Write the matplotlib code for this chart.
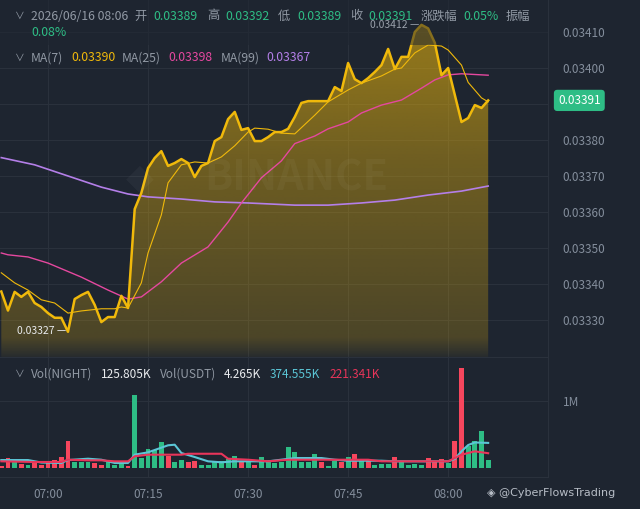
import matplotlib.pyplot as plt
import numpy as np
from matplotlib.patches import Rectangle

plt.rcParams['font.family'] = ['Noto Sans CJK SC', 'DejaVu Sans']

# 1-minute candles, 06:53 .. 08:06 (index 0 .. 73)
close = [0.033379, 0.033326, 0.033378, 0.033364, 0.033378, 0.033347, 0.033336, 0.033319,
         0.033306, 0.033306, 0.033267, 0.033358, 0.033369, 0.033378, 0.033342, 0.033294,
         0.033308, 0.033308, 0.033367, 0.033333, 0.033608, 0.033653, 0.033722, 0.033750,
         0.033769, 0.033728, 0.033736, 0.033747, 0.033736, 0.033697, 0.033728, 0.033736,
         0.033797, 0.033808, 0.033858, 0.033878, 0.033828, 0.033833, 0.033797, 0.033797,
         0.033808, 0.033822, 0.033822, 0.033831, 0.033864, 0.033903, 0.033908, 0.033908,
         0.033908, 0.033908, 0.033947, 0.033936, 0.034014, 0.033969, 0.033958, 0.033972,
         0.033989, 0.034008, 0.034053, 0.033997, 0.034031, 0.034031, 0.034100, 0.034120,
         0.034110, 0.034070, 0.033980, 0.034000, 0.033925, 0.033850, 0.033861, 0.033897,
         0.033889, 0.033910]

# volume in millions NIGHT
volume = [0.034, 0.149, 0.085, 0.064, 0.049, 0.075, 0.040, 0.075, 0.124, 0.164,
          0.407, 0.085, 0.085, 0.085, 0.075, 0.049, 0.085, 0.049, 0.064, 0.034,
          1.094, 0.149, 0.288, 0.273, 0.384, 0.175, 0.085, 0.115, 0.090, 0.104,
          0.040, 0.049, 0.085, 0.109, 0.134, 0.184, 0.085, 0.100, 0.049, 0.164,
          0.085, 0.075, 0.085, 0.313, 0.234, 0.085, 0.085, 0.209, 0.085, 0.034,
          0.109, 0.085, 0.164, 0.213, 0.124, 0.124, 0.049, 0.064, 0.064, 0.164,
          0.085, 0.049, 0.064, 0.049, 0.149, 0.085, 0.134, 0.075, 0.398, 1.490,
          0.324, 0.398, 0.557, 0.126]
up = [0, 0, 1, 0, 1, 0, 0, 0, 0, 0, 0, 1, 1, 1, 0, 0, 1, 1, 1, 0,
      1, 1, 1, 1, 1, 0, 1, 1, 0, 0, 1, 1, 1, 1, 1, 1, 0, 1, 0, 1,
      1, 1, 1, 1, 1, 1, 1, 1, 0, 1, 1, 0, 1, 0, 1, 0, 1, 1, 1, 0,
      1, 1, 1, 1, 0, 0, 0, 1, 0, 0, 1, 1, 1, 1]

ma7_at = [0, 2, 4, 6, 8, 10, 12, 15, 17, 18, 19, 21, 22, 24, 25, 27, 29, 31, 33, 35,
          37, 38, 40, 42, 44, 47, 49, 52, 54, 57, 59, 60, 62, 64, 66, 67, 69, 70, 72, 73]
ma7 = [0.033431, 0.033403, 0.033383, 0.033356, 0.033347, 0.033319, 0.033325, 0.033331,
       0.033331, 0.033336, 0.033333, 0.033403, 0.033486, 0.033592, 0.033681, 0.033731,
       0.033739, 0.033736, 0.033753, 0.033784, 0.033822, 0.033833, 0.033830, 0.033819,
       0.033817, 0.033869, 0.033906, 0.033939, 0.033958, 0.033978, 0.033997, 0.034000,
       0.034042, 0.034064, 0.034061, 0.034050, 0.034008, 0.033960, 0.033917, 0.033906]

ma25_at = [0, 1, 4, 7, 12, 16, 19, 21, 24, 27, 31, 34, 36, 39, 42, 44, 47, 49, 52, 54,
           57, 60, 63, 65, 67, 69, 73]
ma25 = [0.033486, 0.033481, 0.033475, 0.033458, 0.033419, 0.033383, 0.033358, 0.033364,
        0.033406, 0.033458, 0.033503, 0.033572, 0.033625, 0.033695, 0.033742, 0.033790,
        0.033811, 0.033831, 0.033850, 0.033875, 0.033897, 0.033911, 0.033944, 0.033967,
        0.033981, 0.033984, 0.033980]

ma99_at = [0, 5, 10, 15, 19, 22, 27, 32, 37, 44, 49, 54, 59, 64, 69, 73]
ma99 = [0.033751, 0.033731, 0.033700, 0.033669, 0.033650, 0.033642, 0.033636, 0.033628,
        0.033625, 0.033619, 0.033619, 0.033625, 0.033633, 0.033647, 0.033658, 0.033672]

vma5_at = [0, 4, 6, 9, 10, 13, 15, 16, 17, 19, 20, 22, 23, 25, 26, 27, 29, 31, 33, 35,
           37, 40, 44, 48, 50, 52, 57, 59, 67, 68, 69, 70, 71, 73]
vma5 = [0.119, 0.119, 0.082, 0.075, 0.119, 0.139, 0.124, 0.100, 0.075, 0.075,
        0.199, 0.234, 0.269, 0.339, 0.348, 0.224, 0.164, 0.100, 0.085, 0.100,
        0.100, 0.100, 0.149, 0.149, 0.124, 0.109, 0.109, 0.100, 0.100, 0.134,
        0.249, 0.343, 0.381, 0.375]

vma10_at = [0, 5, 9, 10, 13, 15, 17, 19, 20, 22, 27, 28, 33, 34, 37, 40, 43, 52, 55, 57,
            67, 69, 71, 73]
vma10 = [0.100, 0.090, 0.090, 0.124, 0.115, 0.115, 0.100, 0.100, 0.175, 0.199,
         0.199, 0.213, 0.213, 0.139, 0.124, 0.100, 0.124, 0.124, 0.124, 0.100,
         0.100, 0.199, 0.249, 0.221]

time_pos = [7, 22, 37, 52, 67]
time_labels = ['07:00', '07:15', '07:30', '07:45', '08:00']
price_ticks = [0.03330, 0.03340, 0.03350, 0.03360, 0.03370, 0.03380, 0.03390, 0.03400, 0.03410]
low_idx, low_val = 10, 0.03327
high_idx, high_val = 63, 0.03412

BG = '#1e2530'
GRID = '#2a313c'
GREY = '#848e9c'
GREEN = '#2ebd85'
RED = '#f6465d'
YELLOW = '#f0b90b'
PINK = '#e5489f'
PURPLE = '#b47fe8'
CYAN = '#5bc6d6'
VRED = '#e8355a'

W, H = 640, 509
fig = plt.figure(figsize=(6.4, 5.09), dpi=100, facecolor=BG)


def fx(x):
    return x / W


def fy(y):
    return 1 - y / H


ax = fig.add_axes([0, fy(357), fx(548), 357 / H], facecolor=BG)
axv = fig.add_axes([0, fy(477), fx(548), 120 / H], facecolor=BG)

x = np.arange(len(close))
xmin, xmax = -0.195, 81.97
for a in (ax, axv):
    a.set_xlim(xmin, xmax)
    for s in a.spines.values():
        s.set_color(GRID)
    a.spines['left'].set_visible(False)
    a.set_xticks(time_pos)
    a.grid(True, color=GRID, linewidth=0.8)
    a.set_axisbelow(True)
    a.yaxis.tick_right()
    a.tick_params(length=0, colors=GREY, labelsize=8.5, pad=10.5)

ylo, yhi = 0.033197, 0.034189
ax.set_ylim(ylo, yhi)
ax.set_yticks(price_ticks)
# the 0.03390 label sits under the last-price tag
ax.set_yticklabels(['' if abs(p - 0.03390) < 1e-9 else f'{p:.5f}' for p in price_ticks])
ax.set_xticklabels([])
ax.spines['top'].set_visible(False)

# gradient area under close
poly = ax.fill_between(x, close, ylo, facecolor='none', edgecolor='none')
yy = np.linspace(yhi, ylo, 300)
alpha = np.interp(yy, [ylo, 0.03325, 0.03375, 0.03400, yhi], [0.05, 0.22, 0.39, 0.52, 0.58])
img = np.zeros((300, 1, 4))
img[:, 0, :3] = [240 / 255, 185 / 255, 11 / 255]
img[:, 0, 3] = alpha
im = ax.imshow(img, extent=[xmin, xmax, ylo, yhi], aspect='auto', zorder=1, interpolation='bilinear')
im.set_clip_path(poly.get_paths()[0], transform=ax.transData)
ax.set_xlim(xmin, xmax)
ax.set_ylim(ylo, yhi)

ax.plot(ma99_at, ma99, color=PURPLE, lw=1.2, zorder=2)
ax.plot(ma25_at, ma25, color=PINK, lw=1.0, zorder=2)
ax.plot(ma7_at, ma7, color=YELLOW, lw=0.8, zorder=3)
ax.plot(x, close, color=YELLOW, lw=1.8, zorder=4)

# watermark
ax.text(0.54, 0.50, 'BINANCE', transform=ax.transAxes, ha='center', va='center',
        fontsize=30, fontweight='bold', color='white', alpha=0.04, zorder=5)
ax.text(0.255, 0.50, '◆', transform=ax.transAxes, ha='center', va='center',
        fontsize=26, color='white', alpha=0.04, zorder=5, family=['DejaVu Sans'])

# header band overlay
ax.add_patch(Rectangle((0, 1 - 45 / 357), 1, 45 / 357, transform=ax.transAxes,
                       facecolor=BG, alpha=0.5, edgecolor='none', zorder=6))

# high / low labels
ax.text(high_idx - 0.3, high_val, f'{high_val:.5f} —', ha='right', va='center',
        fontsize=7.5, color='#9aa1ab', zorder=7)
ax.text(low_idx - 0.3, low_val, f'{low_val:.5f} —', ha='right', va='center',
        fontsize=7.5, color='#eaecef', zorder=7)

# last price tag
ax.text(1 + 10 / 548, close[-1], f'{close[-1]:.5f}', transform=ax.get_yaxis_transform(),
        ha='left', va='center', fontsize=8.5, color='white', clip_on=False, zorder=8,
        bbox=dict(boxstyle='round,pad=0.35,rounding_size=0.3', facecolor=GREEN, edgecolor='none'))

# volume pane
axv.set_ylim(-0.134, 1.657)
axv.set_yticks([1.0])
axv.set_yticklabels(['1M'])
axv.set_xticklabels(time_labels)
axv.tick_params(axis='x', pad=8)
colors = [GREEN if u else RED for u in up]
axv.bar(x, volume, width=0.74, color=colors, zorder=2)
axv.plot(vma5_at, vma5, color=CYAN, lw=1.5, zorder=3)
axv.plot(vma10_at, vma10, color=VRED, lw=1.5, zorder=3)


def row(y, items, size=9):
    for xp, s, c in items:
        fig.text(fx(xp), fy(y), s, color=c, fontsize=size, va='center', ha='left')


LBL = '#9199a4'
fig.text(fx(20), fy(16), '∨', color=LBL, fontsize=7, ha='center', va='center')
row(16, [(31, '2026/06/16 08:06', LBL), (134, '开', LBL), (153, '0.03389', GREEN),
         (207, '高', LBL), (225, '0.03392', GREEN), (278, '低', LBL), (297, '0.03389', GREEN),
         (350, '收', LBL), (368, '0.03391', GREEN), (421, '涨跌幅', LBL), (463, '0.05%', GREEN),
         (506, '振幅', LBL)], size=8.8)
row(33, [(31, '0.08%', GREEN)], size=8.8)
fig.text(fx(20), fy(58), '∨', color=LBL, fontsize=7, ha='center', va='center')
row(58, [(31, 'MA(7)', LBL), (71, '0.03390', YELLOW), (122, 'MA(25)', LBL),
         (168, '0.03398', PINK), (221, 'MA(99)', LBL), (266, '0.03367', PURPLE)], size=8.8)
fig.text(fx(20), fy(374), '∨', color=LBL, fontsize=7, ha='center', va='center')
row(374, [(31, 'Vol(NIGHT)', LBL), (101, '125.805K', '#eaecef'), (160, 'Vol(USDT)', LBL),
          (224, '4.265K', '#eaecef'), (270, '374.555K', CYAN), (329, '221.341K', VRED)], size=8.5)

fig.text(fx(487), fy(493), '◈ @CyberFlowsTrading', color='#b7bdc6', fontsize=8,
         va='center', ha='left', family=['DejaVu Sans'])

fig.savefig('out.png', dpi=100, facecolor=BG)
